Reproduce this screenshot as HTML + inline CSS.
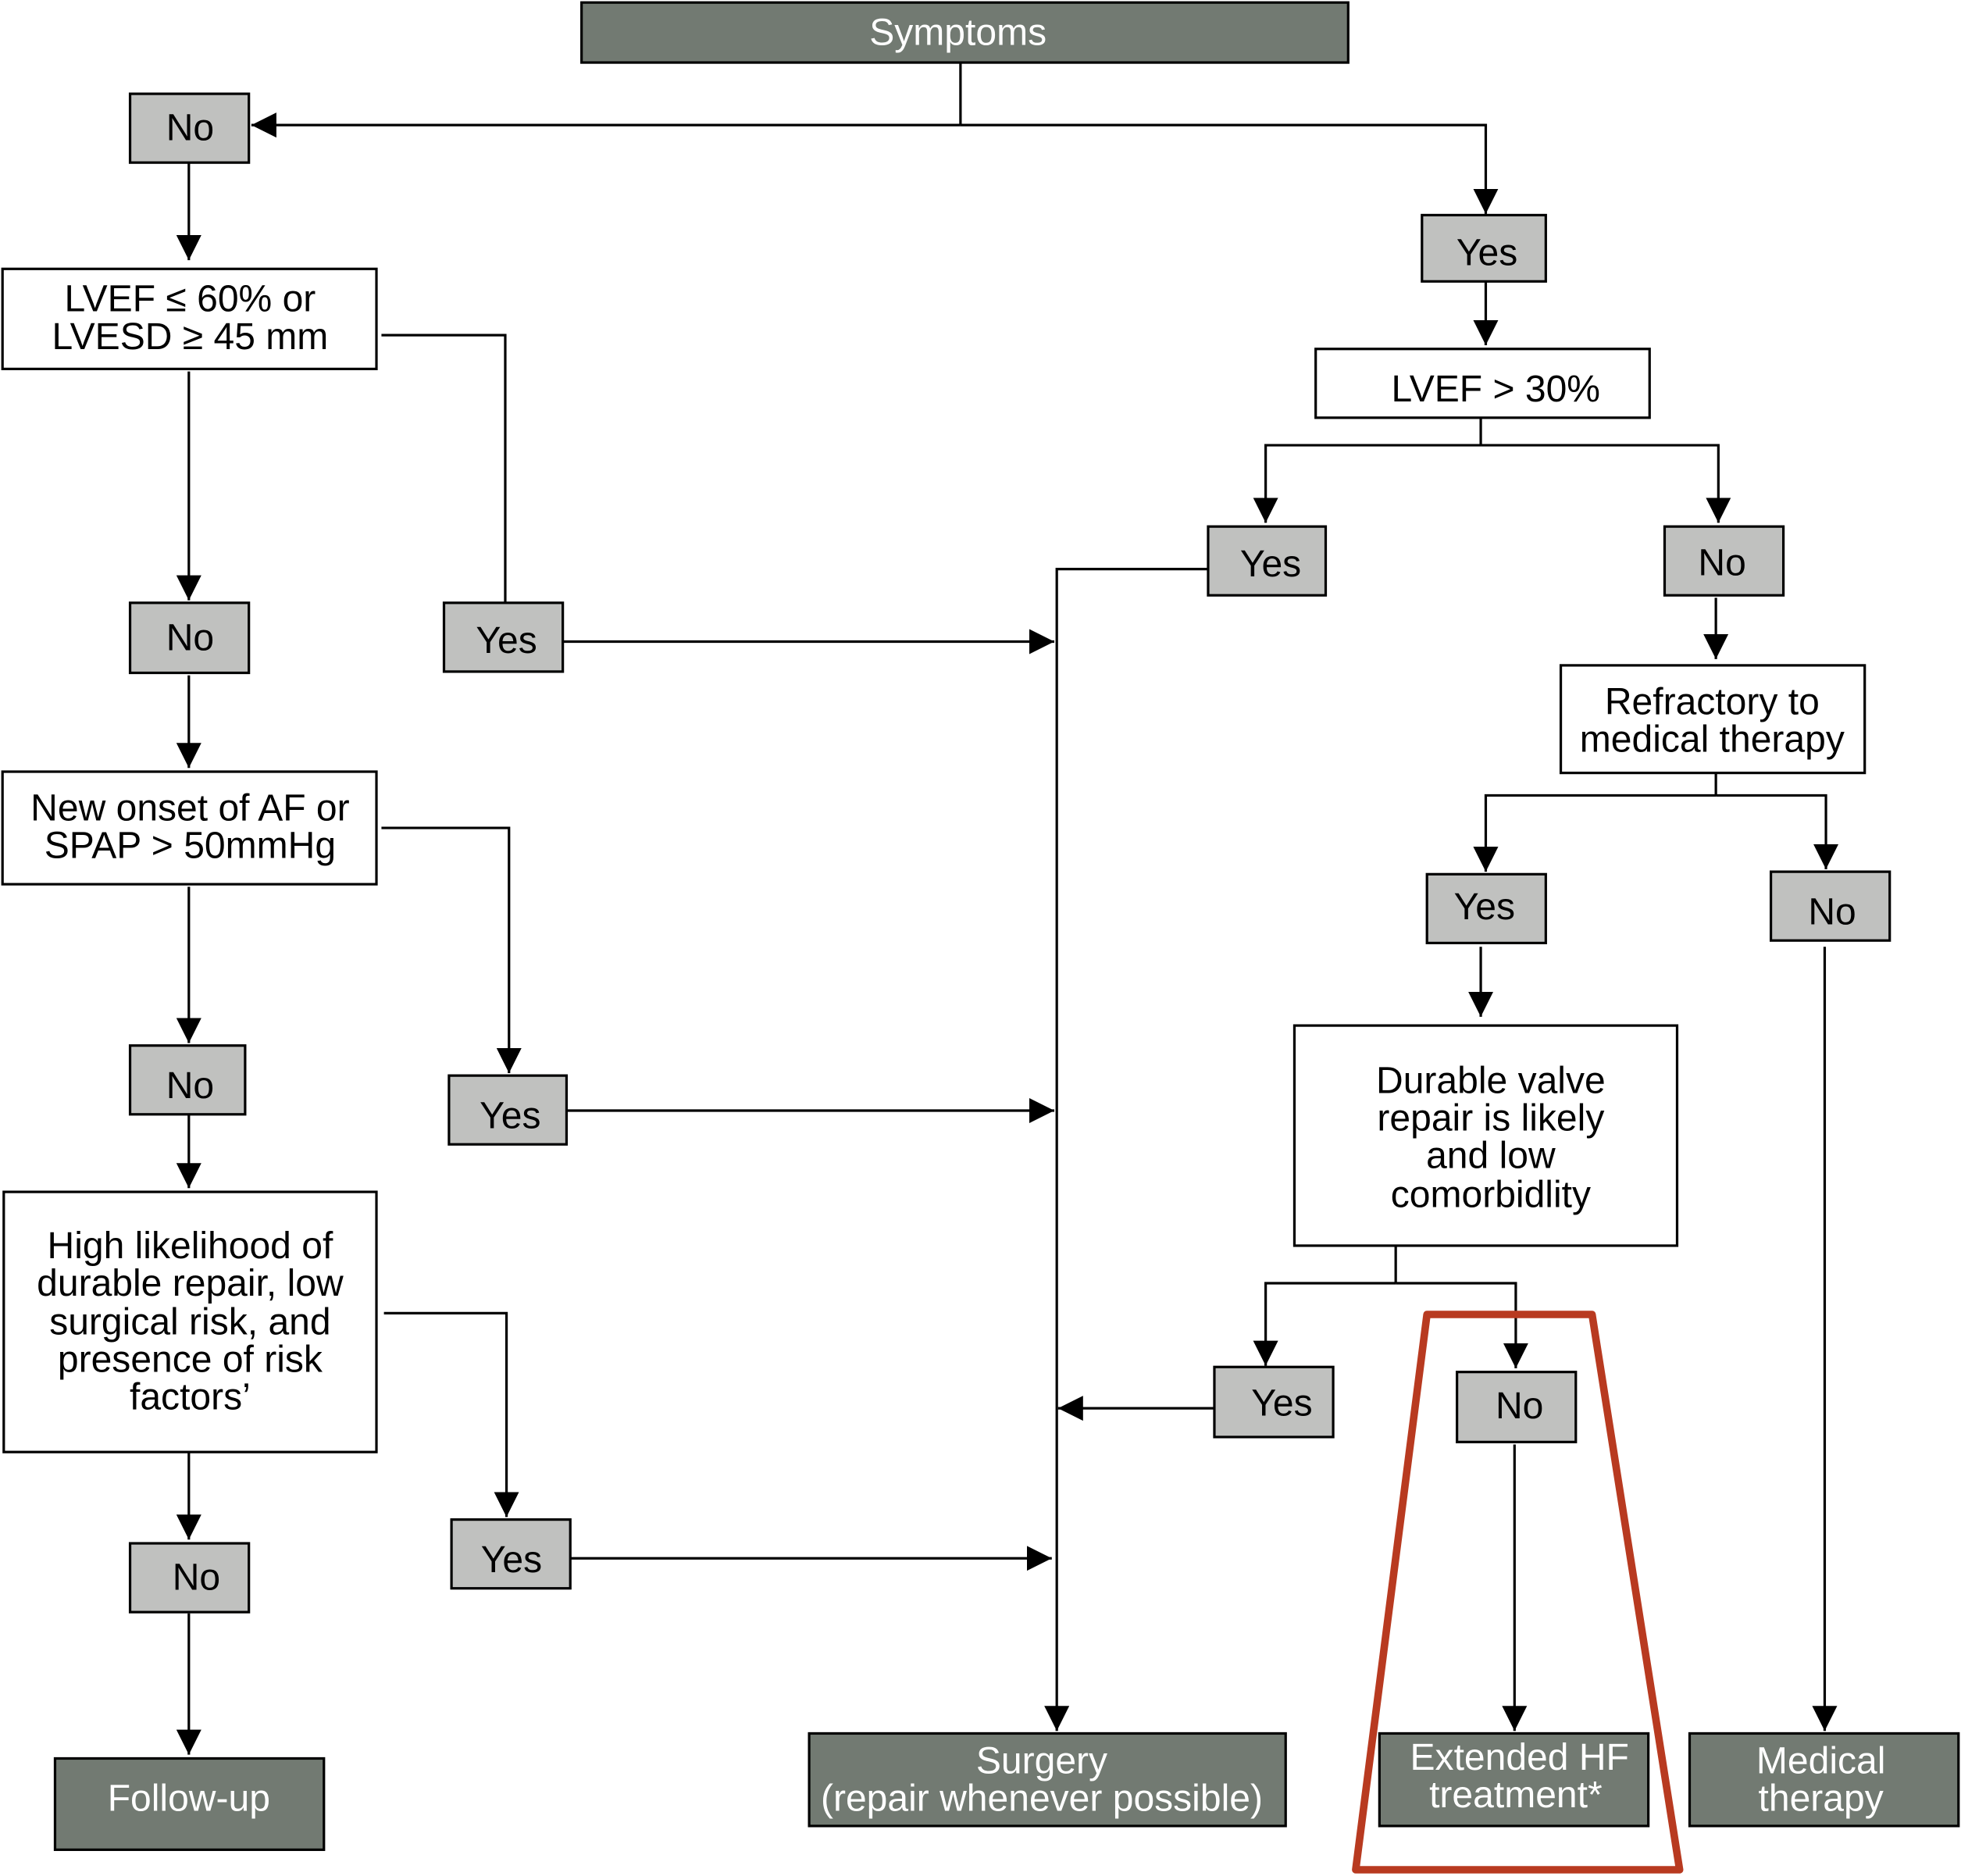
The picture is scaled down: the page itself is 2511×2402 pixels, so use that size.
<!DOCTYPE html>
<html><head><meta charset="utf-8"><style>html,body{margin:0;padding:0;background:#fff}svg{display:block}</style></head><body>
<svg width="2511" height="2402" viewBox="0 0 1568 1500" preserveAspectRatio="none" xmlns="http://www.w3.org/2000/svg" font-family="Liberation Sans, sans-serif" font-size="30">
<defs><marker id="a" markerUnits="userSpaceOnUse" markerWidth="22" markerHeight="20" refX="20" refY="10" orient="auto"><path d="M0,0 L20,10 L0,20 z" fill="#000"/></marker></defs>
<g stroke="#000" stroke-width="2" fill="none">
<path d="M768,50V100"/><path d="M768,100H201" marker-end="url(#a)"/><path d="M768,100H1188V171" marker-end="url(#a)"/>
<path d="M151,130V208" marker-end="url(#a)"/>
<path d="M1188,225V276" marker-end="url(#a)"/>
<path d="M1184,334V356"/><path d="M1184,356H1012V418" marker-end="url(#a)"/><path d="M1184,356H1374V418" marker-end="url(#a)"/>
<path d="M305,268H404V482"/>
<path d="M151,297V480" marker-end="url(#a)"/>
<path d="M450,513H843" marker-end="url(#a)"/>
<path d="M966,455H845V1384" marker-end="url(#a)"/>
<path d="M1372,478V527" marker-end="url(#a)"/>
<path d="M151,540V614" marker-end="url(#a)"/>
<path d="M1372,618V636"/><path d="M1372,636H1188V697" marker-end="url(#a)"/><path d="M1372,636H1460V695" marker-end="url(#a)"/>
<path d="M305,662H407V858" marker-end="url(#a)"/>
<path d="M151,709V834" marker-end="url(#a)"/>
<path d="M453,888H843" marker-end="url(#a)"/>
<path d="M1184,757V813" marker-end="url(#a)"/>
<path d="M1459,757V1384" marker-end="url(#a)"/>
<path d="M1116,996V1026"/><path d="M1116,1026H1012V1092" marker-end="url(#a)"/><path d="M1116,1026H1212V1094" marker-end="url(#a)"/>
<path d="M971,1126H846" marker-end="url(#a)"/>
<path d="M151,891V950" marker-end="url(#a)"/>
<path d="M307,1050H405V1213" marker-end="url(#a)"/>
<path d="M151,1161V1231" marker-end="url(#a)"/>
<path d="M456,1246H841" marker-end="url(#a)"/>
<path d="M151,1290V1403" marker-end="url(#a)"/>
<path d="M1211,1155V1384" marker-end="url(#a)"/>
</g>
<g stroke="#000" stroke-width="2">
<rect x="465" y="2" width="613" height="48" fill="#727a72"/>
<rect x="44" y="1406" width="215" height="73" fill="#727a72"/>
<rect x="647" y="1386" width="381" height="74" fill="#727a72"/>
<rect x="1103" y="1386" width="215" height="74" fill="#727a72"/>
<rect x="1351" y="1386" width="215" height="74" fill="#727a72"/>
<g fill="#c0c1bf">
<rect x="104" y="75" width="95" height="55"/>
<rect x="1137" y="172" width="99" height="53"/>
<rect x="966" y="421" width="94" height="55"/>
<rect x="1331" y="421" width="95" height="55"/>
<rect x="104" y="482" width="95" height="56"/>
<rect x="355" y="482" width="95" height="55"/>
<rect x="1141" y="699" width="95" height="55"/>
<rect x="1416" y="697" width="95" height="55"/>
<rect x="104" y="836" width="92" height="55"/>
<rect x="359" y="860" width="94" height="55"/>
<rect x="971" y="1093" width="95" height="56"/>
<rect x="1165" y="1097" width="95" height="56"/>
<rect x="361" y="1215" width="95" height="55"/>
<rect x="104" y="1234" width="95" height="55"/>
</g>
<g fill="#fff">
<rect x="2" y="215" width="299" height="80"/>
<rect x="1052" y="279" width="267" height="55"/>
<rect x="1248" y="532" width="243" height="86"/>
<rect x="2" y="617" width="299" height="90"/>
<rect x="1035" y="820" width="306" height="176"/>
<rect x="3" y="953" width="298" height="208"/>
</g>
</g>
<path d="M1141,1051H1273L1343,1495H1084Z" fill="none" stroke="#b83a20" stroke-width="6" stroke-linejoin="round"/>
<g text-anchor="middle" fill="#fff">
<text x="766" y="36">Symptoms</text>
<text x="151" y="1448">Follow-up</text>
<text x="833" y="1418">Surgery</text><text x="833" y="1448">(repair whenever possible)</text>
<text x="1215" y="1415">Extended HF</text><text x="1212" y="1445">treatment*</text>
<text x="1456" y="1418">Medical</text><text x="1456" y="1448">therapy</text>
</g>
<g text-anchor="middle" fill="#000">
<text x="152" y="112">No</text>
<text x="1189" y="212">Yes</text>
<text x="1016" y="461">Yes</text>
<text x="1377" y="460">No</text>
<text x="152" y="520">No</text>
<text x="405" y="522">Yes</text>
<text x="1187" y="735">Yes</text>
<text x="1465" y="739">No</text>
<text x="152" y="878">No</text>
<text x="408" y="902">Yes</text>
<text x="1025" y="1132">Yes</text>
<text x="1215" y="1134">No</text>
<text x="409" y="1257">Yes</text>
<text x="157" y="1271">No</text>
<text x="152" y="249">LVEF ≤ 60% or</text><text x="152" y="279">LVESD ≥ 45 mm</text>
<text x="1196" y="321">LVEF &gt; 30%</text>
<text x="1369" y="571">Refractory to</text><text x="1369" y="601">medical therapy</text>
<text x="152" y="656">New onset of AF or</text><text x="152" y="686">SPAP &gt; 50mmHg</text>
<text x="1192" y="874">Durable valve</text><text x="1192" y="904">repair is likely</text><text x="1192" y="934">and low</text><text x="1192" y="965">comorbidlity</text>
<text x="152" y="1006">High likelihood of</text><text x="152" y="1036">durable repair, low</text><text x="152" y="1067">surgical risk, and</text><text x="152" y="1097">presence of risk</text><text x="152" y="1127">factors’</text>
</g>
</svg>
</body></html>
